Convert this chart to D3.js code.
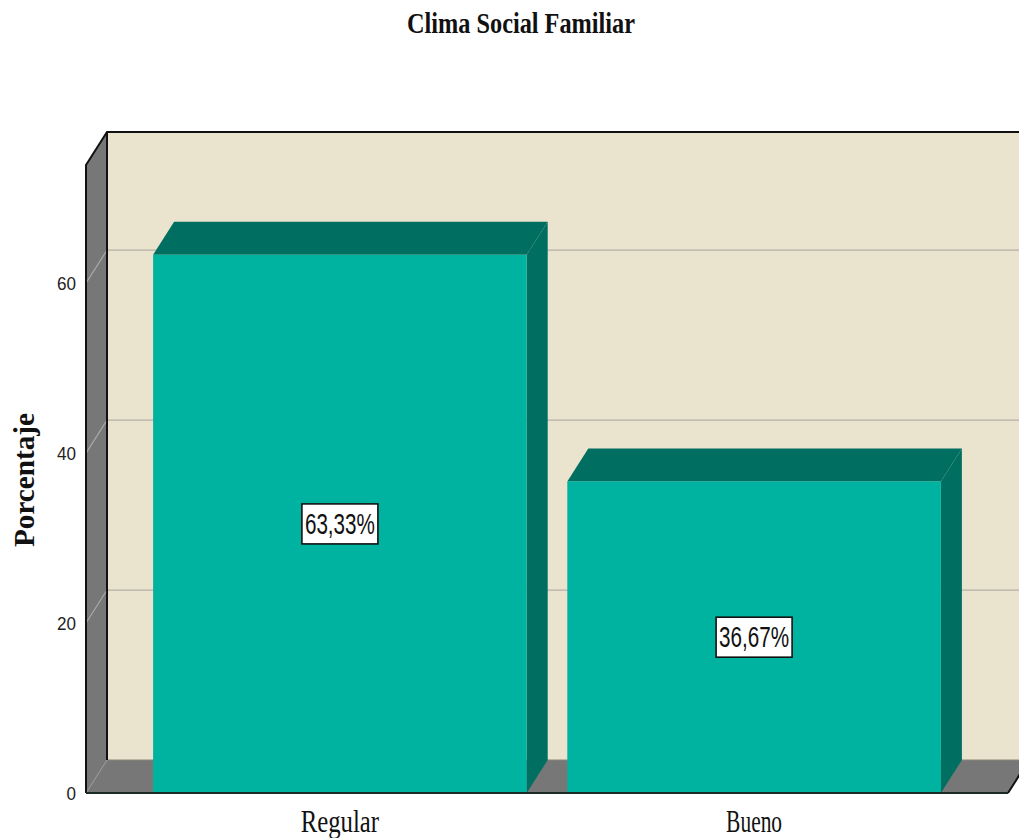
<!DOCTYPE html>
<html><head><meta charset="utf-8">
<script src="https://cdn.jsdelivr.net/npm/d3@7"></script>
<style>html,body{margin:0;padding:0;background:#fff;}svg{display:block;}</style>
</head><body>
<svg id="chart" width="1019" height="838"></svg>
<script>
const categories = ["Regular", "Bueno"];
const percentages = [63.33, 36.67];
const valueLabels = ["63,33%", "36,67%"];
const tickValues = [0, 20, 40, 60];
const chartTitle = "Clima Social Familiar";
const yTitle = "Porcentaje";

(function () {
const svg = d3.select("#chart");
const W = 1019;
const pLeft = 86, pRight = 1008, pBottom = 793, pTop = 165;
const dx = 21, dy = -33;

const x = d3.scaleBand().domain(categories).range([pLeft, pRight]).paddingInner(0.098).paddingOuter(0.162);
const y = d3.scaleLinear().domain([0, 73.9]).range([pBottom, pTop]);

const colWall = "#EAE3CE", colGrey = "#777777", colFront = "#00B3A0", colDark = "#006F61", colGrid = "#b4b0aa";

// back wall
svg.append("rect").attr("x", pLeft + dx).attr("y", pTop + dy).attr("width", pRight - pLeft + 40).attr("height", pBottom - pTop)
  .attr("fill", colWall);
// left wall
svg.append("polygon").attr("points", [[pLeft, pTop], [pLeft + dx, pTop + dy], [pLeft + dx, pBottom + dy], [pLeft, pBottom]].join(" "))
  .attr("fill", colGrey);
// floor
svg.append("polygon").attr("points", [[pLeft, pBottom], [pLeft + dx, pBottom + dy], [pRight + dx, pBottom + dy], [pRight, pBottom]].join(" "))
  .attr("fill", colGrey);
svg.append("line").attr("x1", pLeft + dx).attr("x2", W).attr("y1", pBottom + dy).attr("y2", pBottom + dy)
  .attr("stroke", "#8a8578").attr("stroke-width", 1);

// gridlines
tickValues.filter(v => v > 0).forEach(v => {
  const yy = y(v);
  svg.append("line").attr("x1", pLeft + dx).attr("x2", W).attr("y1", yy + dy).attr("y2", yy + dy)
    .attr("stroke", colGrid).attr("stroke-width", 1.3);
  svg.append("line").attr("x1", pLeft).attr("x2", pLeft + dx).attr("y1", yy).attr("y2", yy + dy)
    .attr("stroke", "#a9a9a9").attr("stroke-width", 1.2);
});
svg.append("line").attr("x1", pLeft).attr("x2", pLeft + dx).attr("y1", pBottom).attr("y2", pBottom + dy)
  .attr("stroke", "#9a9a9a").attr("stroke-width", 1);

// frame lines
svg.append("path").attr("d", `M${pLeft},${pBottom}L${pLeft},${pTop}L${pLeft + dx},${pTop + dy}L${W},${pTop + dy}`)
  .attr("fill", "none").attr("stroke", "#111").attr("stroke-width", 2);
svg.append("line").attr("x1", pLeft + dx).attr("x2", pLeft + dx).attr("y1", pTop + dy).attr("y2", pBottom + dy)
  .attr("stroke", "#111").attr("stroke-width", 2);
svg.append("line").attr("x1", pRight).attr("x2", pRight + dx).attr("y1", pBottom).attr("y2", pBottom + dy)
  .attr("stroke", "#111").attr("stroke-width", 2);

// bars
const data = categories.map((c, i) => ({ c, v: percentages[i], label: valueLabels[i] }));
const bars = svg.append("g").selectAll("g").data(data).join("g");
bars.append("polygon").attr("fill", colDark).attr("points", d => {
  const x1 = x(d.c) + x.bandwidth(), yt = y(d.v);
  return [[x1, yt], [x1 + dx, yt + dy], [x1 + dx, pBottom + dy], [x1, pBottom]].join(" ");
});
bars.append("polygon").attr("fill", colDark).attr("points", d => {
  const x0 = x(d.c), x1 = x0 + x.bandwidth(), yt = y(d.v);
  return [[x0, yt], [x0 + dx, yt + dy], [x1 + dx, yt + dy], [x1, yt]].join(" ");
});
bars.append("rect").attr("fill", colFront)
  .attr("x", d => x(d.c)).attr("width", x.bandwidth())
  .attr("y", d => y(d.v)).attr("height", d => pBottom - y(d.v));

svg.append("line").attr("x1", pLeft).attr("x2", pRight).attr("y1", pBottom).attr("y2", pBottom)
  .attr("stroke", "#1b2b28").attr("stroke-width", 2);

// value labels
const lab = svg.append("g").selectAll("g").data(data).join("g")
  .attr("transform", d => `translate(${x(d.c) + x.bandwidth() / 2},${(y(d.v) + pBottom) / 2})`);
lab.append("rect").attr("x", -38).attr("y", -20).attr("width", 76).attr("height", 40)
  .attr("fill", "#fff").attr("stroke", "#111").attr("stroke-width", 1.6);
lab.append("text").text(d => d.label).attr("text-anchor", "middle").attr("y", 10)
  .attr("font-family", "Liberation Sans, Arial, sans-serif").attr("font-size", 29)
  .attr("textLength", 70).attr("lengthAdjust", "spacingAndGlyphs").attr("fill", "#111");

// y ticks
svg.append("g").selectAll("text").data(tickValues).join("text")
  .text(d => d).attr("x", 76).attr("y", d => y(d) + 7).attr("text-anchor", "end")
  .attr("font-family", "Liberation Sans, Arial, sans-serif").attr("font-size", 19)
  .attr("textLength", d => String(d).length * 9.5).attr("lengthAdjust", "spacingAndGlyphs").attr("fill", "#222");

// x labels
svg.append("g").selectAll("text").data(categories).join("text")
  .text(d => d).attr("x", d => x(d) + x.bandwidth() / 2).attr("y", 832).attr("text-anchor", "middle")
  .attr("font-family", "Liberation Serif, Times New Roman, serif").attr("font-size", 31)
  .attr("textLength", d => d.length * 11.2).attr("lengthAdjust", "spacingAndGlyphs").attr("fill", "#111");

// title
svg.append("text").text(chartTitle).attr("x", 521).attr("y", 33).attr("text-anchor", "middle")
  .attr("font-family", "Liberation Serif, Times New Roman, serif").attr("font-weight", "bold").attr("font-size", 29)
  .attr("textLength", 228).attr("lengthAdjust", "spacingAndGlyphs").attr("fill", "#111");

// y title
svg.append("text").text(yTitle).attr("transform", "translate(34,480) rotate(-90)").attr("text-anchor", "middle")
  .attr("font-family", "Liberation Serif, Times New Roman, serif").attr("font-weight", "bold").attr("font-size", 29)
  .attr("textLength", 134).attr("lengthAdjust", "spacingAndGlyphs").attr("fill", "#111");
})();
</script>
</body></html>
